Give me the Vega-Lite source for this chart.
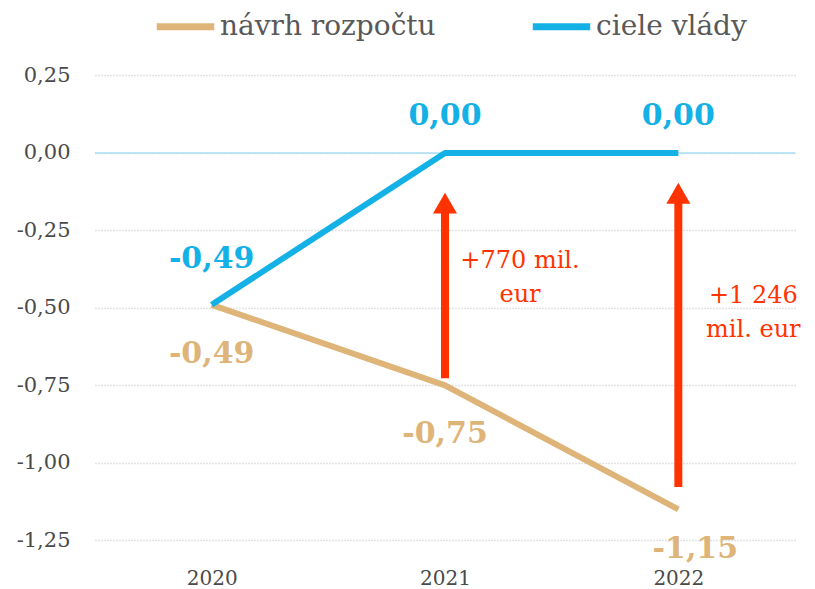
{
  "$schema": "https://vega.github.io/schema/vega-lite/v6.json",
  "width": 700,
  "height": 502,
  "autosize": "none",
  "padding": {"left": 95, "top": 60, "right": 20, "bottom": 27},
  "background": "white",
  "config": {"view": {"stroke": null}, "font": "DejaVu Serif",
             "text": {"font": "DejaVu Serif"},
             "legend": {"labelFont": "DejaVu Serif"},
             "axis": {"labelFont": "DejaVu Serif"}},
  "datasets": {
    "lines": [
      {"year": "2020", "series": "návrh rozpočtu", "value": -0.49},
      {"year": "2021", "series": "návrh rozpočtu", "value": -0.75},
      {"year": "2022", "series": "návrh rozpočtu", "value": -1.15},
      {"year": "2020", "series": "ciele vlády", "value": -0.49},
      {"year": "2021", "series": "ciele vlády", "value": 0.0},
      {"year": "2022", "series": "ciele vlády", "value": 0.0}
    ],
    "arrows": [
      {"year": "2021", "from": -0.727, "to": -0.162},
      {"year": "2022", "from": -1.078, "to": -0.13}
    ],
    "notes": [
      {"year": "2021", "y": -0.35, "text": "+770 mil.\neur"},
      {"year": "2022", "y": -0.46, "text": "+1 246\nmil. eur"}
    ]
  },
  "encoding": {
    "x": {
      "field": "year", "type": "ordinal",
      "scale": {"type": "point", "padding": 0.5, "domain": ["2020", "2021", "2022"]}
    }
  },
  "layer": [
    {
      "data": {"values": [{}]},
      "mark": {"type": "rule", "color": "#a8dff2", "strokeWidth": 1.5},
      "encoding": {"x": null, "y": {"datum": 0, "type": "quantitative"}}
    },
    {
      "data": {"name": "lines"},
      "mark": {"type": "line", "strokeWidth": 6, "strokeJoin": "round"},
      "encoding": {
        "x": {
          "field": "year", "type": "ordinal",
          "scale": {"type": "point", "padding": 0.5, "domain": ["2020", "2021", "2022"]},
          "axis": {"title": null, "domain": false, "ticks": false, "grid": false, "labelAngle": 0,
                   "labelFont": "DejaVu Serif", "labelFontSize": 20, "labelColor": "#4a4a4a",
                   "labelPadding": 6, "labelFontWeight": "normal", "labelBaseline": "top"}
        },
        "y": {
          "field": "value", "type": "quantitative",
          "scale": {"domain": [-1.32, 0.3], "nice": false, "zero": false},
          "axis": {"title": null, "domain": false, "ticks": false, "grid": true,
                   "values": [-1.25, -1, -0.75, -0.5, -0.25, 0, 0.25],
                   "gridDash": [1, 2], "gridColor": "#c8c8c8", "gridWidth": 1.3,
                   "labelExpr": "replace(replace(format(datum.value, '.2f'), '.', ','), '\u2212', '-')",
                   "labelFont": "DejaVu Serif", "labelFontSize": 21, "labelColor": "#4a4a4a",
                   "labelPadding": 25, "labelFontWeight": "normal"}
        },
        "color": {
          "field": "series", "type": "nominal",
          "scale": {"domain": ["návrh rozpočtu", "ciele vlády"], "range": ["#deb478", "#14b1e7"]},
          "legend": {"orient": "none", "legendX": 58, "legendY": -66, "direction": "horizontal",
                     "title": null, "symbolType": "stroke", "symbolStrokeWidth": 7, "symbolSize": 3300,
                     "labelFont": "DejaVu Serif", "labelFontSize": 28, "labelColor": "#595959", "labelLimit": 400,
                     "columnPadding": 82, "padding": 0, "labelOffset": 2}
        }
      }
    },
    {
      "data": {"name": "arrows"},
      "mark": {"type": "rule", "color": "#ff3300", "strokeWidth": 8},
      "encoding": {
        "y": {"field": "from", "type": "quantitative"},
        "y2": {"field": "to"}
      }
    },
    {
      "data": {"name": "arrows"},
      "mark": {"type": "point", "shape": "triangle-up", "filled": true, "size": 576, "color": "#ff3300", "opacity": 1},
      "encoding": {
        "y": {"field": "to", "type": "quantitative"}
      }
    },
    {
      "data": {"name": "notes"},
      "mark": {"type": "text", "font": "DejaVu Serif", "color": "#ff3300", "fontSize": 24, "align": "center", "baseline": "middle",
               "lineBreak": "\n", "lineHeight": 34, "dx": 75},
      "encoding": {
        "y": {"field": "y", "type": "quantitative"},
        "text": {"field": "text"}
      }
    },
    {
      "data": {"name": "lines"},
      "transform": [
        {"filter": "datum.series == 'ciele vlády' && datum.year == '2020'"},
        {"calculate": "replace(replace(format(datum.value, '.2f'), '.', ','), '\u2212', '-')", "as": "lbl"}
      ],
      "mark": {"type": "text", "font": "DejaVu Serif", "color": "#14b1e7", "fontSize": 30, "fontWeight": "bold", "baseline": "middle", "dy": -46},
      "encoding": {"y": {"field": "value", "type": "quantitative"}, "text": {"field": "lbl"}}
    },
    {
      "data": {"name": "lines"},
      "transform": [
        {"filter": "datum.series == 'ciele vlády' && datum.year != '2020'"},
        {"calculate": "replace(replace(format(datum.value, '.2f'), '.', ','), '\u2212', '-')", "as": "lbl"}
      ],
      "mark": {"type": "text", "font": "DejaVu Serif", "color": "#14b1e7", "fontSize": 30, "fontWeight": "bold", "baseline": "middle", "dy": -37},
      "encoding": {"y": {"field": "value", "type": "quantitative"}, "text": {"field": "lbl"}}
    },
    {
      "data": {"name": "lines"},
      "transform": [
        {"filter": "datum.series == 'návrh rozpočtu' && datum.year != '2022'"},
        {"calculate": "replace(replace(format(datum.value, '.2f'), '.', ','), '\u2212', '-')", "as": "lbl"}
      ],
      "mark": {"type": "text", "font": "DejaVu Serif", "color": "#deb478", "fontSize": 30, "fontWeight": "bold", "baseline": "middle", "dy": 49},
      "encoding": {"y": {"field": "value", "type": "quantitative"}, "text": {"field": "lbl"}}
    },
    {
      "data": {"name": "lines"},
      "transform": [
        {"filter": "datum.series == 'návrh rozpočtu' && datum.year == '2022'"},
        {"calculate": "replace(replace(format(datum.value, '.2f'), '.', ','), '\u2212', '-')", "as": "lbl"}
      ],
      "mark": {"type": "text", "font": "DejaVu Serif", "color": "#deb478", "fontSize": 30, "fontWeight": "bold", "baseline": "middle", "dy": 40, "dx": 17},
      "encoding": {"y": {"field": "value", "type": "quantitative"}, "text": {"field": "lbl"}}
    }
  ]
}
